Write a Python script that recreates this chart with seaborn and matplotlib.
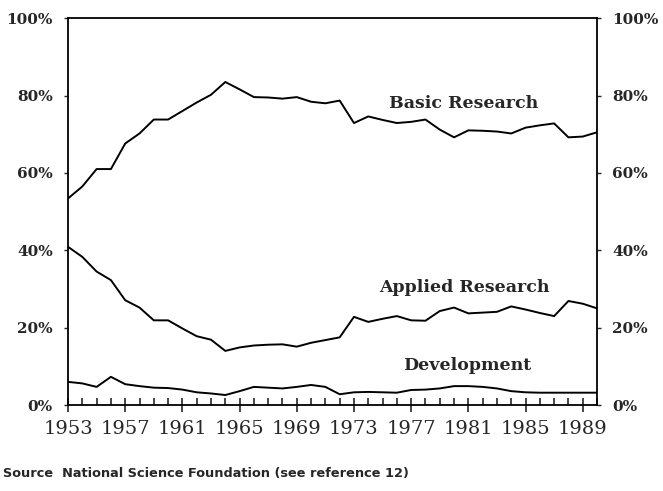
import seaborn as sns
import matplotlib.pyplot as plt
from matplotlib.ticker import MultipleLocator, FuncFormatter
import pandas as pd

# share of federal research money by type, 1953-1990
years = list(range(1953, 1991))
basic = [53.4, 56.5, 61.0, 61.0, 67.6, 70.2, 73.8, 73.8, 76.0, 78.2,
         80.2, 83.5, 81.6, 79.6, 79.5, 79.2, 79.6, 78.4, 78.0, 78.7,
         72.9, 74.6, 73.7, 72.9, 73.2, 73.8, 71.2, 69.2, 71.0, 70.9,
         70.7, 70.2, 71.7, 72.3, 72.8, 69.2, 69.4, 70.5]
applied = [40.9, 38.3, 34.5, 32.3, 27.1, 25.2, 21.9, 21.9, 19.8, 17.8,
           16.9, 14.0, 14.9, 15.4, 15.6, 15.7, 15.1, 16.1, 16.8, 17.5,
           22.8, 21.5, 22.3, 23.0, 21.9, 21.8, 24.3, 25.2, 23.7, 23.9,
           24.1, 25.5, 24.7, 23.8, 23.0, 26.9, 26.2, 25.0]
development = [6.0, 5.6, 4.7, 7.3, 5.4, 4.9, 4.5, 4.4, 4.0, 3.3,
               3.0, 2.6, 3.6, 4.7, 4.5, 4.3, 4.7, 5.2, 4.7, 2.8,
               3.3, 3.4, 3.3, 3.2, 3.9, 4.0, 4.3, 4.9, 4.9, 4.7,
               4.3, 3.6, 3.3, 3.2, 3.2, 3.2, 3.2, 3.2]
major_years = list(range(1953, 1990, 4))

df = pd.DataFrame({"year": years, "Basic Research": basic,
                   "Applied Research": applied, "Development": development})

sns.set_style("white")
plt.rcParams["font.family"] = ["DejaVu Serif"]

fig = plt.figure(figsize=(6.63, 4.91), dpi=100)
ax = fig.add_axes([0.1026, 0.175, 0.7979, 0.788])

for col in ["Basic Research", "Applied Research", "Development"]:
    sns.lineplot(data=df, x="year", y=col, ax=ax, color="black", lw=1.4)

ax.set_xlim(1953, 1990)
ax.set_ylim(0, 100)
ax.set_xlabel("")
ax.set_ylabel("")

# labels on the lines
ax.text(1980.7, 77.9, "Basic Research", ha="center", va="center", fontsize=12.5, fontweight="bold")
ax.text(1980.7, 30.5, "Applied Research", ha="center", va="center", fontsize=12.5, fontweight="bold")
ax.text(1980.9, 10.3, "Development", ha="center", va="center", fontsize=12.5, fontweight="bold")

for s in ax.spines.values():
    s.set_color("black")
    s.set_linewidth(1.3)

ax.set_yticks([0, 20, 40, 60, 80, 100])
ax.yaxis.set_major_formatter(FuncFormatter(lambda v, p: f"{int(v)}%"))
ax.tick_params(axis="y", left=True, right=True, labelleft=True, labelright=True,
               direction="out", length=3, width=1, pad=8, labelsize=11)
for t in ax.get_yticklabels():
    t.set_fontweight("bold")

ax.set_xticks(major_years)
ax.xaxis.set_minor_locator(MultipleLocator(1))
ax.tick_params(axis="x", which="major", direction="inout", length=10, width=1.2,
               pad=6, labelsize=14, bottom=True)
ax.tick_params(axis="x", which="minor", direction="in", length=5, width=1.2, bottom=True)

fig.text(0.004, 0.028, "Source  National Science Foundation (see reference 12)",
         fontsize=9.3, fontweight="bold", family="DejaVu Sans")

plt.savefig("out.png", dpi=100)
